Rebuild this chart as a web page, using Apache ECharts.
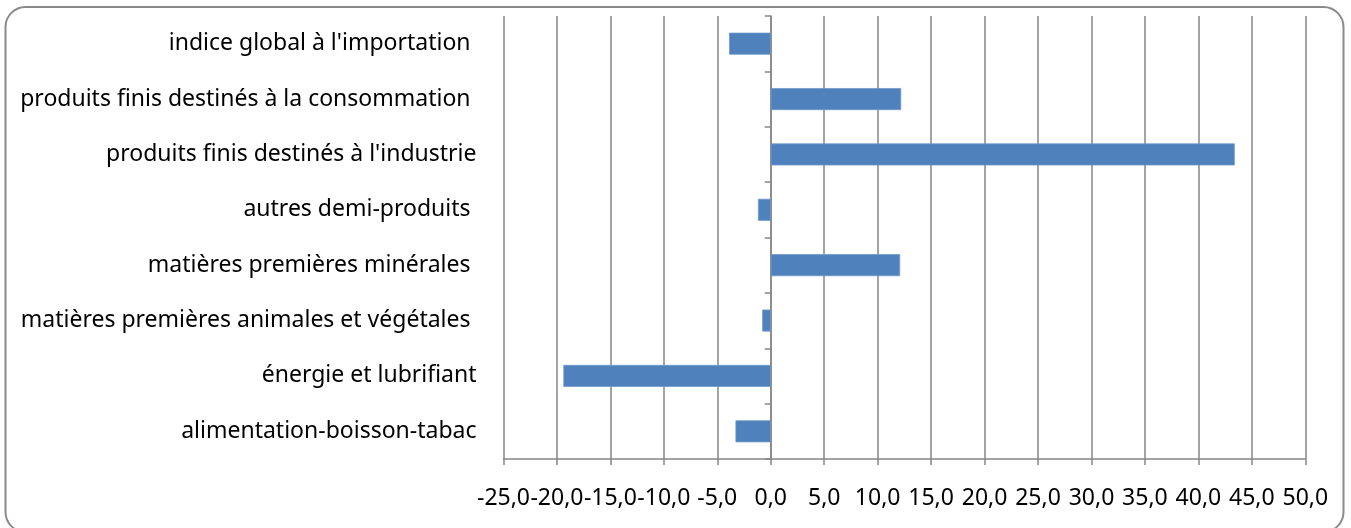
<!DOCTYPE html>
<html>
<head>
<meta charset="utf-8">
<script src="https://cdn.jsdelivr.net/npm/echarts@6/dist/echarts.min.js"></script>
<style>
html,body{margin:0;padding:0;background:#fff;}
#chart{width:1351px;height:528px;}
</style>
</head>
<body>
<div id="chart"></div>
<script>
// Categories listed bottom to top (as ECharts draws category y axes)
const categories = [
  "alimentation-boisson-tabac",
  "énergie et lubrifiant",
  "matières premières animales et végétales ",
  "matières premières minérales ",
  "autres demi-produits ",
  "produits finis destinés à l'industrie",
  "produits finis destinés à la consommation ",
  "indice global à l'importation "
];
const values = [-3.3, -19.4, -0.8, 12.1, -1.2, 43.4, 12.2, -3.9];
const axisMin = -25;
const axisMax = 50;
const axisStep = 5;

const chart = echarts.init(document.getElementById('chart'), null, {renderer: 'canvas'});
const FONT = "'Noto Sans', 'Open Sans', sans-serif";
const option = {
  animation: false,
  backgroundColor: '#ffffff',
  grid: {left: 503.5, right: 45.7, top: 16, bottom: 69, containLabel: false},
  xAxis: {
    type: 'value',
    min: axisMin, max: axisMax, interval: axisStep,
    axisLine: {show: true, onZero: false, lineStyle: {color: '#868686', width: 1.5}},
    axisTick: {show: true, length: 6, lineStyle: {color: '#868686', width: 1.5}},
    splitLine: {show: true, lineStyle: {color: '#868686', width: 1.5}},
    axisLabel: {
      color: '#000', fontFamily: FONT, fontSize: 23, margin: 28,
      formatter: v => v.toFixed(1).replace('.', ',')
    }
  },
  yAxis: [
    {
      type: 'category', data: categories, position: 'left',
      axisLine: {show: true, onZero: true, lineStyle: {color: '#868686', width: 1.5}},
      axisTick: {show: true, length: 6, lineStyle: {color: '#868686', width: 1.5}},
      axisLabel: {show: false},
      splitLine: {show: false}
    },
    {
      type: 'category', data: categories, position: 'left',
      axisLine: {show: false, onZero: false},
      axisTick: {show: false},
      axisLabel: {show: true, color: '#000', fontFamily: FONT, fontSize: 23, margin: 27},
      splitLine: {show: false}
    }
  ],
  series: [{
    type: 'bar',
    yAxisIndex: 0,
    data: values,
    barWidth: 22,
    itemStyle: {color: '#4f81bd', borderColor: '#6f98cc', borderWidth: 0.8}
  }],
  graphic: [{
    type: 'rect',
    shape: {x: 5.5, y: 7, width: 1338, height: 525, r: 20},
    style: {fill: null, stroke: '#8a8a8a', lineWidth: 2},
    silent: true,
    z: 100
  }]
};
chart.setOption(option);
</script>
</body>
</html>
